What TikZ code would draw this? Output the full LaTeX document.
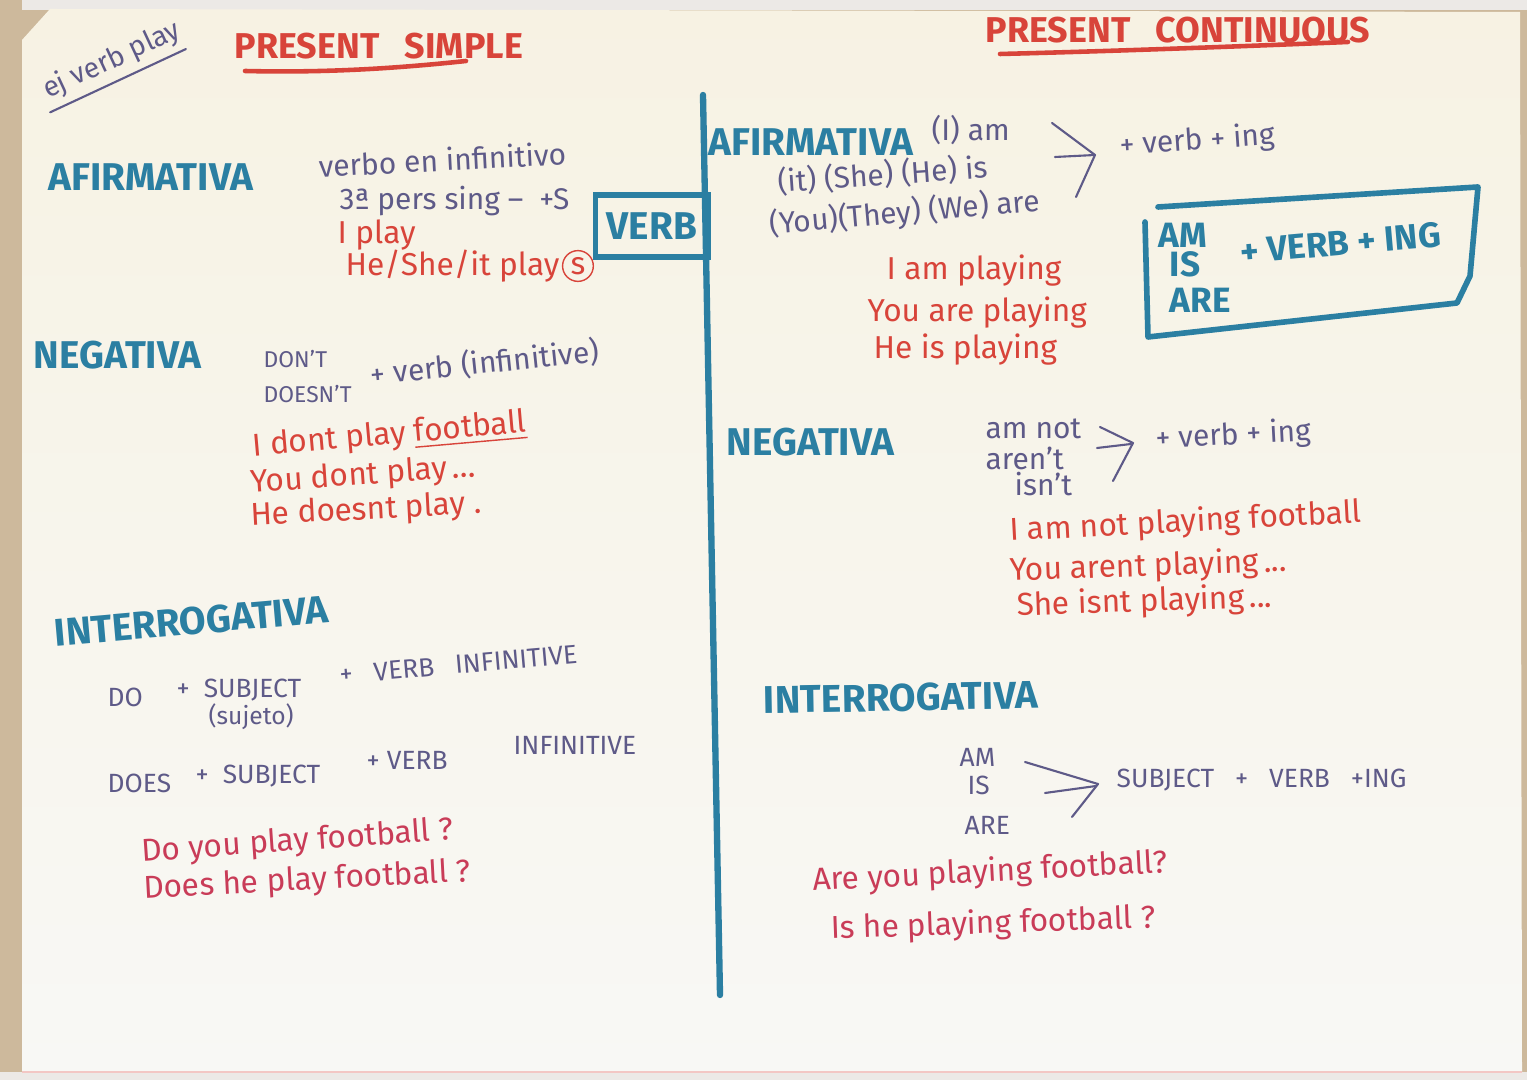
\documentclass[tikz,border=0pt]{standalone}
\usepackage{fontspec}
\setmainfont{Fira Sans}
\usetikzlibrary{positioning}

\definecolor{inkteal}{HTML}{2B7FA2}
\definecolor{inkred}{HTML}{D8443A}
\definecolor{inkpurple}{HTML}{5E5A88}
\definecolor{inkrose}{HTML}{C93C58}
\definecolor{papertop}{HTML}{F7F2E3}
\definecolor{paperbot}{HTML}{F8F8F5}
\definecolor{boardcol}{HTML}{CDB99C}
\definecolor{edgecol}{HTML}{ECE9E6}

\begin{document}
\begin{tikzpicture}[x=0.01cm, y=-0.01cm,
    every node/.style={inner sep=0pt, anchor=west},
    titletext/.style={text=inkred, font=\bfseries\fontsize{10.2}{12}\selectfont},
    heading/.style={text=inkteal, font=\bfseries\fontsize{11}{12}\selectfont},
    ruletext/.style={text=inkpurple, font=\fontsize{8.5}{10}\selectfont},
    capstext/.style={text=inkpurple, font=\fontsize{7.5}{9}\selectfont},
    example/.style={text=inkred, font=\fontsize{9}{11}\selectfont},
    question/.style={text=inkrose, font=\fontsize{9}{11}\selectfont},
    redline/.style={draw=inkred, line width=1.3pt, line cap=round},
    tealline/.style={draw=inkteal, line width=1.6pt, line cap=round, line join=round},
    thinline/.style={draw=inkpurple, line width=0.6pt, line cap=round, line join=round}
  ]
    \useasboundingbox (0,0) rectangle (1527,1080);

    % Paper
    \fill[boardcol] (0,0) rectangle (1527,1080);
    \fill[edgecol] (22,0) rectangle (1527,10);
    \fill[edgecol] (0,1072) rectangle (1527,1080);
    \shade[top color=papertop, bottom color=paperbot]
        (22,40) -- (50,9) -- (1520,12) -- (1522,1072) -- (22,1072) -- cycle;
    \draw[inkred!30, line width=0.8pt] (22,1072) -- (1522,1072);

    % Titles
    \node[ruletext, rotate=25, font=\fontsize{8}{9}\selectfont] (ejverb) at (44,92) {ej verb play};
    \draw[thinline] ([yshift=-2pt]ejverb.south west) -- ([yshift=-2pt]ejverb.south east);
    \node[titletext] (simple) at (234,46) {PRESENT\ \ \ SIMPLE};
    \draw[redline] (245,71) .. controls (330,73) and (400,68) .. (466,61);
    \node[titletext] (continuous) at (985,30) {PRESENT\ \ \ CONTINUOUS};
    \draw[redline] (1000,54) .. controls (1120,51) and (1250,46) .. (1348,42);

    % Divider and verb box
    \coordinate (divtop) at (703,95);
    \coordinate (divbot) at (720,995);
    \draw[tealline, line width=1.8pt] (divtop) -- (divbot);
    \node[heading, draw=inkteal, line width=1.6pt, minimum width=1.13cm,
          minimum height=0.62cm, anchor=center] (verbbox) at (652,226) {VERB};

    % Present simple: afirmativa
    \node[heading] (aff1) at (48,177) {AFIRMATIVA};
    \node[ruletext, rotate=3] (verbo) at (318,166) {verbo en infinitivo};
    \node[ruletext] (pers) at (339,201) {3ª pers sing -- \ +S};
    \node[example] (iplay) at (337,235) {I play};
    \node[example] (heplays) at (345,266) {He/She/it play};
    \node[example, circle, draw=inkred, thin, inner sep=0.8pt, right=0.5pt of heplays] (circs) {s};

    % Present simple: negativa
    \node[heading] (neg1) at (33,355) {NEGATIVA};
    \node[capstext, font=\fontsize{6.5}{8}\selectfont] (dont) at (263,359) {DON'T};
    \node[capstext, font=\fontsize{6.5}{8}\selectfont] (doesnt) at (263,394) {DOESN'T};
    \node[ruletext, rotate=6] (plusverb) at (370,375) {+ verb (infinitive)};
    \node[example, rotate=5] (neg1a) at (252,448) {I dont play \underline{football}};
    \node[example, rotate=4] (neg1b) at (250,484) {You dont play\,...};
    \node[example, rotate=3] (neg1c) at (250,517) {He doesnt play .};

    % Present simple: interrogativa
    \node[heading, rotate=5] (int1) at (54,633) {INTERROGATIVA};
    \node[capstext] (do) at (107,697) {DO};
    \node[capstext] (subj1) at (176,690) {+ \ SUBJECT};
    \node[ruletext, font=\fontsize{7}{8}\selectfont] (sujeto) at (208,717) {(sujeto)};
    \node[capstext, rotate=5] (vinf1) at (339,675) {+ \ \ VERB\ \ \ INFINITIVE};
    \node[capstext] (does) at (107,783) {DOES};
    \node[capstext] (subj2) at (195,776) {+ \ SUBJECT};
    \node[capstext] (plusverb2) at (366,760) {+ VERB};
    \node[capstext] (inf2) at (513,745) {INFINITIVE};
    \node[question, rotate=4] (q1) at (141,853) {Do you play football ?};
    \node[question, rotate=3] (q2) at (143,890) {Does he play football ?};

    % Present continuous: afirmativa
    \node[heading] (aff2) at (708,142) {AFIRMATIVA};
    \node[ruletext] (am) at (931,130) {(I) am};
    \node[ruletext, rotate=4] (is) at (777,182) {(it) (She) (He) is};
    \node[ruletext, rotate=5] (are) at (769,225) {(You)(They) (We) are};
    \draw[thinline] (1052,123) -- (1095,155) -- (1076,197);
    \draw[thinline] (1055,157) -- (1095,155);
    \node[ruletext, rotate=4] (verbing1) at (1119,147) {+ verb + ing};
    \node[example] (aff2a) at (886,271) {I am playing};
    \node[example] (aff2b) at (867,313) {You are playing};
    \node[example] (aff2c) at (873,350) {He is playing};

    % Am / is / are box
    \node[heading, font=\bfseries\fontsize{10}{11}\selectfont] (bam) at (1158,235) {AM};
    \node[heading, font=\bfseries\fontsize{10}{11}\selectfont] (bis) at (1169,264) {IS};
    \node[heading, font=\bfseries\fontsize{10}{11}\selectfont] (bare) at (1169,300) {ARE};
    \node[heading, font=\bfseries\fontsize{10}{11}\selectfont, rotate=5] (bverb) at (1240,252) {+ VERB + ING};
    \draw[tealline] (1158,207) -- (1478,187) -- (1470,276) -- (1457,303) -- (1148,337) -- (1145,222);

    % Present continuous: negativa
    \node[heading] (neg2) at (726,442) {NEGATIVA};
    \node[ruletext] (amnot) at (985,429) {am not};
    \node[ruletext] (arent) at (985,458) {aren't};
    \node[ruletext] (isnt) at (1014,484) {isn't};
    \draw[thinline] (1100,427) -- (1133,443) -- (1113,481);
    \draw[thinline] (1097,448) -- (1131,444);
    \node[ruletext, rotate=3] (verbing2) at (1155,440) {+ verb + ing};
    \node[example, rotate=3] (neg2a) at (1009,532) {I am not playing football};
    \node[example, rotate=2] (neg2b) at (1009,572) {You arent playing\,...};
    \node[example, rotate=2] (neg2c) at (1016,607) {She isnt playing\,...};

    % Present continuous: interrogativa
    \node[heading, rotate=1] (int2) at (763,700) {INTERROGATIVA};
    \node[capstext] (qam) at (959,757) {AM};
    \node[capstext] (qis) at (967,785) {IS};
    \node[capstext] (qare) at (964,825) {ARE};
    \draw[thinline] (1025,762) -- (1098,784) -- (1072,817);
    \draw[thinline] (1045,793) -- (1096,786);
    \node[capstext] (subjing) at (1116,780) {SUBJECT\ \ \ +\ \ \ VERB\ \ \ +ING};
    \node[question, rotate=3] (q3) at (812,882) {Are you playing football?};
    \node[question, rotate=2] (q4) at (830,930) {Is he playing football ?};

\end{tikzpicture}
\end{document}
